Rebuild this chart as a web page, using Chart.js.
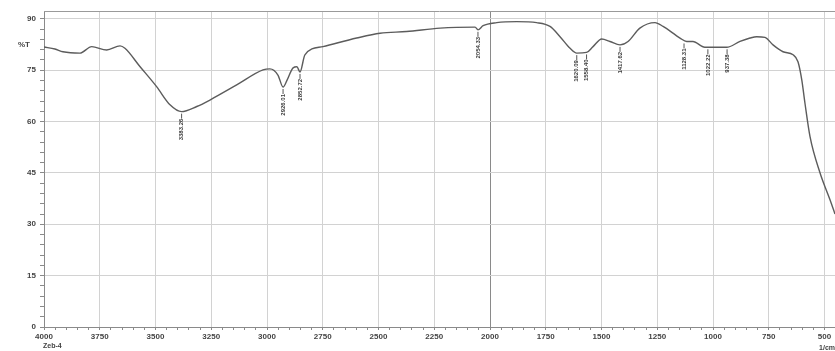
<!DOCTYPE html>
<html>
<head>
<meta charset="utf-8">
<script src="https://cdn.jsdelivr.net/npm/chart.js@4/dist/chart.umd.min.js"></script>
<style>
  html, body { margin: 0; padding: 0; background: #fff; }
  canvas { display: block; }
</style>
</head>
<body>
<canvas id="ir" width="835" height="351"></canvas>
<script>
// spectrum (wavenumber 1/cm, %T)
const wavenumbers = [4000, 3951, 3915, 3839, 3786, 3719, 3659, 3637, 3570, 3495, 3435, 3383, 3315, 3256,
  3136, 3018, 2987, 2951, 2928, 2910, 2883, 2866, 2852, 2830, 2749, 2598, 2493, 2374, 2224, 2067, 2054,
  2031, 1970, 1880, 1791, 1731, 1686, 1641, 1611, 1567, 1538, 1499, 1462, 1417, 1381, 1328, 1260, 1224,
  1148, 1118, 1090, 1037, 984, 939, 879, 834, 804, 767, 731, 686, 641, 619, 602, 588, 565, 520, 475, 453];
const transmittance = [81.8, 81.2, 80.4, 80.0, 81.9, 80.9, 82.1, 81.4, 76.1, 70.2, 64.9, 62.9, 64.4, 66.3,
  70.7, 75.1, 75.4, 73.6, 70.1, 72.1, 75.7, 76.0, 74.5, 79.5, 81.9, 84.4, 85.8, 86.3, 87.3, 87.6, 86.8,
  88.0, 88.9, 89.2, 88.9, 87.8, 84.8, 81.4, 80.0, 80.2, 81.9, 84.1, 83.4, 82.4, 83.4, 87.3, 88.9, 87.8,
  84.4, 83.4, 83.4, 81.7, 81.7, 81.7, 83.4, 84.4, 84.8, 84.6, 82.4, 80.4, 79.5, 77.5, 72.2, 65.5, 55.6,
  45.0, 37.1, 33.0];

// peak marks
const peakWn = [3383, 2928, 2852, 2054, 1611, 1567, 1417, 1130, 1023, 937];
const peakT = [62.9, 70.1, 74.5, 86.8, 80.0, 80.2, 82.4, 83.4, 81.7, 81.7];
const peakLabels = ['3383.26', '2926.01', '2852.72', '2054.33', '1620.09', '1558.40', '1417.62',
  '1128.31', '1022.22', '937.38'];

const yTickValues = [0, 15, 30, 45, 60, 75, 90];
const xTickValues = [4000, 3750, 3500, 3250, 3000, 2750, 2500, 2250, 2000, 1750, 1500, 1250, 1000, 750, 500];

const points = wavenumbers.map((w, i) => ({ x: w, y: transmittance[i] }));

// border, peak labels and the loose texts
const extras = {
  id: 'extras',
  afterDatasetsDraw(chart) {
    const ctx = chart.ctx;
    const a = chart.chartArea;
    const xs = chart.scales.x, ys = chart.scales.y;
    ctx.save();
    ctx.strokeStyle = '#9a9a9a';
    ctx.lineWidth = 1;
    ctx.beginPath();
    ctx.moveTo(a.left, a.top + 0.5);
    ctx.lineTo(a.right, a.top + 0.5);
    ctx.stroke();

    ctx.fillStyle = '#3a3a3a';
    ctx.strokeStyle = '#555';
    ctx.font = 'bold 6px "Liberation Sans", Arial, sans-serif';
    peakWn.forEach((w, i) => {
      const px = xs.getPixelForValue(w);
      const py = ys.getPixelForValue(peakT[i]);
      ctx.beginPath();
      ctx.moveTo(px, py + 2);
      ctx.lineTo(px, py + 7);
      ctx.stroke();
      ctx.save();
      ctx.translate(px, py + 7);
      ctx.rotate(-Math.PI / 2);
      ctx.textAlign = 'right';
      ctx.textBaseline = 'middle';
      ctx.fillText(peakLabels[i], 0, 0);
      ctx.restore();
    });

    ctx.font = 'bold 8px "Liberation Sans", Arial, sans-serif';
    ctx.fillStyle = '#444';
    ctx.textAlign = 'right';
    ctx.textBaseline = 'middle';
    ctx.fillText('%T', 30, ys.getPixelForValue(82.5));
    ctx.textAlign = 'left';
    ctx.font = 'bold 7px "Liberation Sans", Arial, sans-serif';
    ctx.fillText('Zeb-4', 43, 346);
    ctx.textAlign = 'right';
    ctx.fillText('1/cm', 835, 348);
    ctx.restore();
  }
};

new Chart('ir', {
  type: 'line',
  data: {
    datasets: [{
      data: points,
      borderColor: '#5c5c5c',
      borderWidth: 1.4,
      pointRadius: 0,
      cubicInterpolationMode: 'monotone',
      fill: false
    }]
  },
  options: {
    responsive: false,
    animation: false,
    layout: { padding: { top: 11, right: 0, left: 0, bottom: 0 } },
    plugins: { legend: { display: false }, tooltip: { enabled: false } },
    scales: {
      x: {
        type: 'linear',
        reverse: true,
        min: 453,
        max: 4000,
        afterBuildTicks(scale) {
          const t = [];
          for (let v = 500; v <= 4000; v += 50) t.push({ value: v });
          scale.ticks = t;
        },
        afterFit(scale) { scale.height = 24; },
        ticks: {
          autoSkip: false,
          maxRotation: 0,
          padding: 2,
          color: '#444',
          font: { size: 8, weight: 'bold', family: '"Liberation Sans", Arial, sans-serif' },
          callback: v => xTickValues.includes(v) ? String(v) : ''
        },
        grid: {
          color: c => {
            const v = c.tick ? c.tick.value : null;
            if (v === 2000) return '#8a8a8a';
            return xTickValues.includes(v) && v !== 4000 ? '#d2d2d2' : 'rgba(0,0,0,0)';
          },
          tickColor: '#8a8a8a',
          tickLength: 3,
          lineWidth: 1
        },
        border: { color: '#8a8a8a' }
      },
      y: {
        min: 0,
        max: 92.3,
        afterBuildTicks(scale) {
          const t = [];
          for (let v = 0; v <= 90; v += 3) t.push({ value: v });
          scale.ticks = t;
        },
        afterFit(scale) { scale.width = 44; },
        ticks: {
          autoSkip: false,
          padding: 4,
          color: '#444',
          font: { size: 8, weight: 'bold', family: '"Liberation Sans", Arial, sans-serif' },
          callback: v => yTickValues.includes(v) ? String(v) : ''
        },
        grid: {
          color: c => {
            const v = c.tick ? c.tick.value : null;
            return yTickValues.includes(v) && v !== 0 ? '#d2d2d2' : 'rgba(0,0,0,0)';
          },
          tickColor: '#8a8a8a',
          tickLength: 4,
          lineWidth: 1
        },
        border: { color: '#8a8a8a' }
      }
    }
  },
  plugins: [extras]
});
</script>
</body>
</html>
